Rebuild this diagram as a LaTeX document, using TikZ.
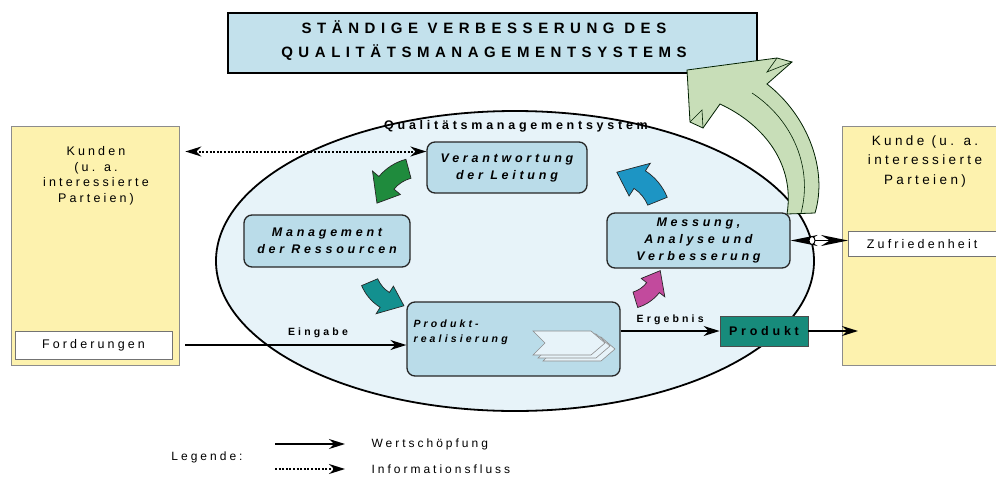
\documentclass[tikz,border=0pt]{standalone}
\usepackage{fontspec}
\setmainfont{Liberation Sans}
\newfontfamily\spaced[LetterSpace=25]{Liberation Sans}
\newfontfamily\weit[LetterSpace=30]{Liberation Sans}
\newfontfamily\wide[LetterSpace=37]{Liberation Sans}
\usetikzlibrary{arrows.meta,shapes.geometric}

\definecolor{titelblau}{HTML}{C3E1EC}
\definecolor{qmsblau}{HTML}{E7F3F9}
\definecolor{boxblau}{HTML}{BADCE9}
\definecolor{kundengelb}{HTML}{FDF2AE}
\definecolor{produktgruen}{HTML}{178B7B}
\definecolor{pfeilgruen}{HTML}{1F8B3D}
\definecolor{pfeiltuerkis}{HTML}{13908F}
\definecolor{pfeilmagenta}{HTML}{C24A9D}
\definecolor{pfeilblau}{HTML}{1D95C4}
\definecolor{hellgruen}{HTML}{C8DEB8}

\tikzset{
  prozess/.style={draw=black!85, line width=1.3pt, rounded corners=8pt, fill=boxblau,
    align=center, inner sep=0pt, font=\fontsize{12.5}{17}\weit\bfseries\itshape},
  kunde/.style={fill=kundengelb, inner sep=0pt},
  feld/.style={fill=white, inner sep=0pt, font=\fontsize{12.5}{14}\spaced},
  fluss/.style={-{Stealth[length=16pt,width=10pt]}, line width=1.5pt},
  info/.style={dash pattern=on 2pt off 1.6pt, line width=2pt, {Stealth[length=16pt,width=10pt]}-{Stealth[length=16pt,width=10pt]}},
  marke/.style={font=\fontsize{10.5}{12}\weit\bfseries},
  cyclearrow/.pic={
    \filldraw[fill=#1, draw=black!85, line width=0.7pt, shift={(-31pt,0pt)}]
      (-30:24pt) arc[start angle=-30, end angle=5, radius=24pt] -- (5:18pt) -- (35:31pt)
      -- (5:44pt) -- (5:38pt) arc[start angle=5, end angle=-30, radius=38pt] -- cycle;
  }
}

\begin{document}
\begin{tikzpicture}[x=1pt,y=-1pt]
\useasboundingbox (0,0) rectangle (996,485);

% Titel
\node[draw, line width=2.2pt, fill=titelblau, minimum width=529pt, minimum height=60pt] (titel) at (492.5,43) {};
\node[align=center, font=\fontsize{15}{24}\wide\bfseries] (titeltext) at (484,41)
  {STÄNDIGE VERBESSERUNG DES\\QUALITÄTSMANAGEMENTSYSTEMS};

% QM-System
\draw[line width=1.8pt, fill=qmsblau] (515,261) ellipse [x radius=299, y radius=150];
\node[font=\fontsize{12.5}{14}\weit\bfseries] (qms) at (516,126) {Qualitätsmanagementsystem};

% Pfeil zur staendigen Verbesserung
\filldraw[fill=hellgruen, draw=black!70!green!40!black, line width=0.8pt]
  (815,213) .. controls (828,170) and (808,116) .. (767,84) -- (792,62) -- (777,58) -- (687,70)
  -- (690,122) -- (703,128) -- (720,104) .. controls (765,125) and (795,165) .. (787,214) -- cycle;
\draw[black!70!green!40!black, line width=0.6pt]
  (801,213) .. controls (813,168) and (793,120) .. (752,93);
\draw[black!70!green!40!black, line width=0.6pt] (690,122) -- (702,110) -- (703,128);
\draw[black!70!green!40!black, line width=0.6pt] (777,58) -- (767,72) -- (792,62);

% Kunden links
\node[kunde, minimum width=168pt, minimum height=239pt, draw=black!45, line width=0.8pt] (kunden) at (95,245.5) {};
\node[align=center, anchor=north, font=\fontsize{12.5}{15.5}\spaced] (kundentext) at (96,143)
  {Kunden\\(u. a.\\interessierte\\Parteien)};
\node[feld, draw=black!55, line width=0.8pt, minimum width=157pt, minimum height=28pt] (forderungen) at (93.5,345) {Forderungen};

% Kunde rechts
\node[kunde, minimum width=154pt, minimum height=239pt, anchor=north west] (kunde) at (842,126) {};
\draw[black!45, line width=0.8pt] (kunde.north east) -- (kunde.north west) -- (kunde.south west) -- (kunde.south east);
\node[align=center, anchor=north, font=\fontsize{13.5}{19.5}\spaced] (kundetext) at (925,132)
  {Kunde (u. a.\\interessierte\\Parteien)};
\node[feld, minimum width=148pt, minimum height=25pt, anchor=west] (zufrieden) at (848,244) {Zufriedenheit};
\draw[black!55, line width=0.8pt] (zufrieden.north east) -- (zufrieden.north west) -- (zufrieden.south west) -- (zufrieden.south east);

% Prozesse
\node[prozess, minimum width=160pt, minimum height=51pt] (leitung) at (507,167.5) {Verantwortung\\der Leitung};
\node[prozess, minimum width=166pt, minimum height=52pt] (ressourcen) at (327,241) {Management\\der Ressourcen};
\node[prozess, minimum width=183pt, minimum height=55pt] (messung) at (698.5,240.5) {Messung,\\Analyse und\\Verbesserung};
\node[prozess, minimum width=213pt, minimum height=74pt] (realisierung) at (513.5,339) {};
\node[align=left, anchor=north west, font=\fontsize{10.5}{15}\weit\bfseries\itshape] (realtext) at (410,316)
  {Produkt-\\realisierung};
\foreach \d in {10,5,0}
  \filldraw[fill=qmsblau, draw=black!45, line width=0.6pt, shift={(533+\d,331+\d*0.6)}]
    (0,0) -- (58,0) -- (72,12) -- (58,24) -- (0,24) -- (12,12) -- cycle;
\node[draw=black!70, line width=0.8pt, fill=produktgruen, minimum width=88pt, minimum height=30pt,
  font=\fontsize{12.5}{14}\weit\bfseries] (produkt) at (764,331) {Produkt};

% Kreislauf
\pic[rotate=135, scale=1.4] at (389,180) {cyclearrow=pfeilgruen};
\pic[rotate=233, scale=1.25] at (382,298) {cyclearrow=pfeiltuerkis};
\pic[rotate=-43, scale=1.15] at (651,290) {cyclearrow=pfeilmagenta};
\pic[rotate=52, scale=1.5] at (643,182) {cyclearrow=pfeilblau};

% Fluesse
\draw[fluss] ([xshift=13pt]forderungen.east) -- (forderungen.east -| realisierung.west)
  node[pos=0.6, above=3pt, marke] {Eingabe};
\draw[fluss] (realisierung.east |- produkt.west) -- (produkt.west)
  node[midway, above=2pt, marke] {Ergebnis};
\draw[fluss] (produkt.east) -- ([xshift=16pt]produkt.east -| kunde.west);
\coordinate (infoziel) at ([yshift=16pt]leitung.west);
\draw[info] ([xshift=6pt]kunden.east |- infoziel) -- (infoziel);
\draw[line width=1.8pt, {Stealth[length=27pt,width=11pt]}-{Stealth[length=27pt,width=11pt]}] (messung.east) -- (messung.east -| zufrieden.west);
\node[ellipse, draw, fill=white, line width=1pt, inner sep=0pt, minimum width=6pt, minimum height=8pt] (auge) at (812,240.5) {};

% Legende
\node[font=\fontsize{12}{13}\spaced] (legende) at (207,457) {Legende:};
\node[anchor=west, font=\fontsize{12}{13}\spaced] (wert) at (368,444) {Wertschöpfung};
\node[anchor=west, font=\fontsize{12}{13}\spaced] (infofluss) at (368,469) {Informationsfluss};
\draw[fluss] ([xshift=-93pt]wert.west) -- ([xshift=-23pt]wert.west);
\draw[dash pattern=on 2pt off 1.6pt, line width=2pt, -{Stealth[length=16pt,width=10pt]}] ([xshift=-93pt]infofluss.west) -- ([xshift=-23pt]infofluss.west);
\end{tikzpicture}
\end{document}
